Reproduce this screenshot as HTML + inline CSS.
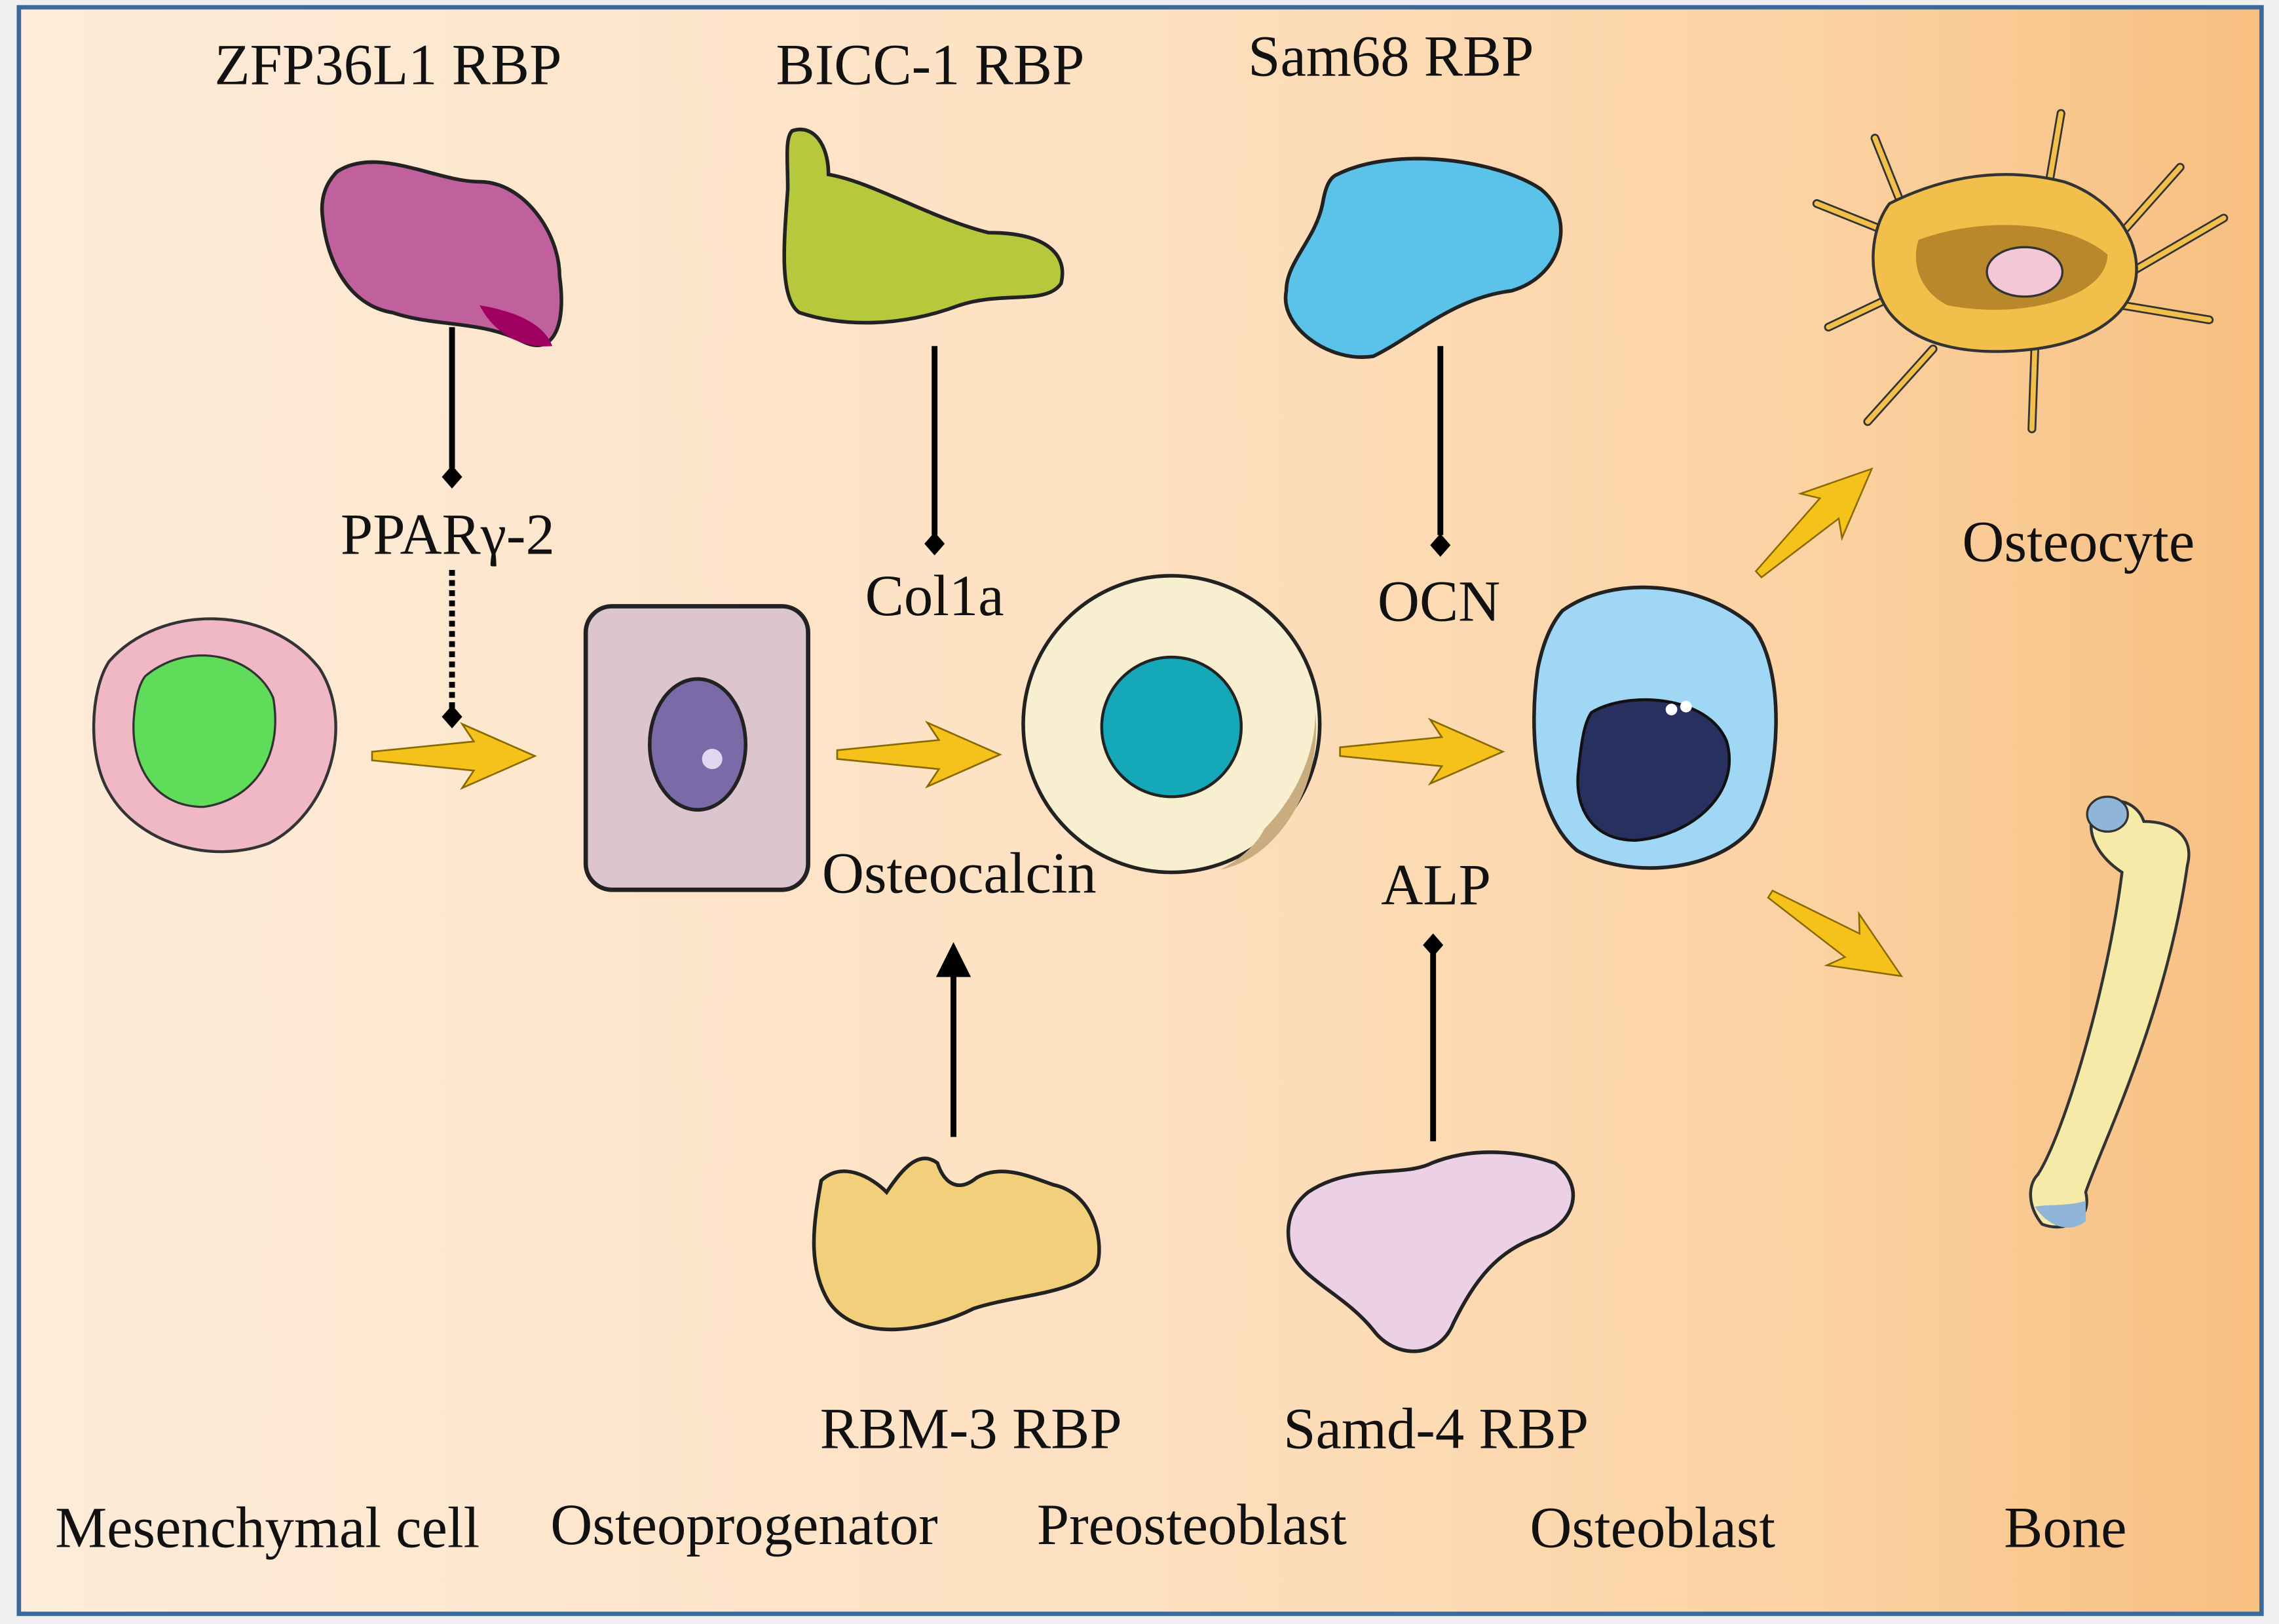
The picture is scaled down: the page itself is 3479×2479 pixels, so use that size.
<!DOCTYPE html>
<html><head><meta charset="utf-8"><style>
html,body{margin:0;padding:0;background:#f0f0f0;}
svg{display:block;}
text{font-family:"Liberation Serif",serif;font-size:40px;fill:#111;}
</style></head><body>
<svg width="3479" height="2479" viewBox="0 0 1568 1117" preserveAspectRatio="none" xmlns="http://www.w3.org/2000/svg">
<defs>
<linearGradient id="bg" x1="0" x2="1" y1="0" y2="0">
<stop offset="0" stop-color="#fdecda"/><stop offset="0.5" stop-color="#fde0c0"/><stop offset="0.8" stop-color="#fbd2a2"/><stop offset="1" stop-color="#f7bf80"/>
</linearGradient>
<polygon id="ya" points="0,-3 70,-10 62,-22 112,0 62,22 70,10 0,3" fill="#f5c21b" stroke="#8a6a00" stroke-width="1.2"/>
</defs>
<rect x="0" y="0" width="1568" height="1117" fill="#f0f0f0"/>
<rect x="13" y="5" width="1543" height="1105" fill="url(#bg)" stroke="#3a6a9c" stroke-width="3"/>

<text x="267" y="58" text-anchor="middle">ZFP36L1 RBP</text>
<text x="640" y="58" text-anchor="middle">BICC-1 RBP</text>
<text x="957" y="52" text-anchor="middle">Sam68 RBP</text>
<text x="308" y="381" text-anchor="middle">PPARγ-2</text>
<text x="643" y="423" text-anchor="middle">Col1a</text>
<text x="990" y="427" text-anchor="middle">OCN</text>
<text x="1430" y="386" text-anchor="middle">Osteocyte</text>
<text x="660" y="614" text-anchor="middle">Osteocalcin</text>
<text x="988" y="622" text-anchor="middle">ALP</text>
<text x="668" y="996" text-anchor="middle">RBM-3 RBP</text>
<text x="988" y="996" text-anchor="middle">Samd-4 RBP</text>
<text x="184" y="1064" text-anchor="middle">Mesenchymal cell</text>
<text x="512" y="1062" text-anchor="middle">Osteoprogenator</text>
<text x="820" y="1062" text-anchor="middle">Preosteoblast</text>
<text x="1137" y="1064" text-anchor="middle">Osteoblast</text>
<text x="1421" y="1064" text-anchor="middle">Bone</text>

<g stroke="#000" stroke-width="4">
<line x1="311" y1="225" x2="311" y2="322"/>
<line x1="311" y1="392" x2="311" y2="488" stroke-dasharray="4,3"/>
<line x1="643" y1="238" x2="643" y2="368"/>
<line x1="991" y1="238" x2="991" y2="368"/>
<line x1="656" y1="782" x2="656" y2="668"/>
<line x1="986" y1="785" x2="986" y2="656"/>
</g>
<g fill="#000">
<polygon points="311,320 318,328 311,336 304,328"/>
<polygon points="311,485 318,493 311,501 304,493"/>
<polygon points="643,366 650,374 643,382 636,374"/>
<polygon points="991,367 998,375 991,383 984,375"/>
<polygon points="986,642 993,650 986,658 979,650"/>
<polygon points="656,648 668,672 644,672"/>
</g>

<use href="#ya" transform="translate(256,520)"/>
<use href="#ya" transform="translate(576,519)"/>
<use href="#ya" transform="translate(922,517)"/>
<use href="#ya" transform="translate(1210,395) rotate(-43) scale(0.95)"/>
<use href="#ya" transform="translate(1218,615) rotate(32) scale(0.95)"/>

<path d="M232,118 C260,100 300,125 330,125 C360,125 385,160 385,190 C390,225 380,245 360,235 C330,220 300,225 270,215 C240,210 225,180 222,150 C220,135 225,125 232,118 Z" fill="#c0619e" stroke="#222" stroke-width="2.5"/>
<path d="M330,210 C360,215 375,225 380,238 C360,240 340,230 330,210 Z" fill="#a0005f"/>
<path d="M545,90 C560,85 570,100 570,120 C600,125 640,150 680,160 C720,160 735,175 730,195 C720,210 690,200 660,210 C620,225 580,225 550,215 C535,205 540,160 542,130 C542,110 540,95 545,90 Z" fill="#b6c93c" stroke="#222" stroke-width="2.5"/>
<path d="M920,120 C960,100 1030,110 1060,130 C1085,150 1075,190 1040,200 C1000,205 975,230 945,245 C915,250 880,225 885,200 C885,180 905,165 910,140 C912,128 915,122 920,120 Z" fill="#5bc3ea" stroke="#222" stroke-width="2.5"/>
<path d="M75,455 C110,415 185,415 220,460 C245,500 225,560 185,580 C145,595 95,580 75,545 C60,520 62,475 75,455 Z" fill="#f0b8c6" stroke="#333" stroke-width="2"/>
<path d="M100,465 C130,440 175,450 188,480 C195,520 175,550 140,555 C105,555 90,525 92,495 C93,480 96,470 100,465 Z" fill="#5fdc5a" stroke="#333" stroke-width="1.5"/>
<rect x="403" y="417" width="153" height="195" rx="18" fill="#dcc5cf" stroke="#222" stroke-width="3"/>
<ellipse cx="480" cy="512" rx="33" ry="45" fill="#7a6aa8" stroke="#222" stroke-width="2.5"/>
<circle cx="490" cy="522" r="7" fill="#e0d8f0"/>
<circle cx="806" cy="498" r="102" fill="#f7efd0" stroke="#222" stroke-width="2.5"/>
<path d="M870,570 C890,550 905,520 905,490 C910,540 880,590 840,598 C855,590 865,580 870,570 Z" fill="#c9ad7f"/>
<circle cx="806" cy="500" r="48" fill="#14a8b8" stroke="#222" stroke-width="2"/>
<path d="M1075,420 C1110,395 1170,400 1205,430 C1230,460 1225,540 1205,570 C1180,600 1120,605 1085,585 C1055,560 1052,500 1058,460 C1062,440 1068,428 1075,420 Z" fill="#9fd7f5" stroke="#222" stroke-width="2.5"/>
<path d="M1095,490 C1120,475 1175,478 1188,510 C1198,545 1165,575 1125,578 C1095,578 1083,555 1086,530 C1088,510 1090,497 1095,490 Z" fill="#283060" stroke="#111" stroke-width="2"/>
<circle cx="1150" cy="488" r="4" fill="#fff"/><circle cx="1160" cy="486" r="4" fill="#fff"/>
<g stroke="#333" stroke-width="6" fill="none" stroke-linecap="round">
<path d="M1310,145 L1290,95"/><path d="M1410,125 L1418,78"/><path d="M1460,160 L1500,115"/><path d="M1470,185 L1530,150"/><path d="M1460,210 L1520,220"/><path d="M1400,240 L1398,295"/><path d="M1330,240 L1285,290"/><path d="M1300,205 L1258,225"/><path d="M1300,160 L1250,140"/>
</g>
<g stroke="#f2c04a" stroke-width="3.5" fill="none" stroke-linecap="round">
<path d="M1310,145 L1290,95"/><path d="M1410,125 L1418,78"/><path d="M1460,160 L1500,115"/><path d="M1470,185 L1530,150"/><path d="M1460,210 L1520,220"/><path d="M1400,240 L1398,295"/><path d="M1330,240 L1285,290"/><path d="M1300,205 L1258,225"/><path d="M1300,160 L1250,140"/>
</g>
<path d="M1300,140 C1340,120 1380,115 1420,125 C1450,135 1470,160 1470,185 C1470,215 1440,235 1400,240 C1360,245 1320,240 1300,215 C1285,195 1285,160 1300,140 Z" fill="#f2c04a" stroke="#333" stroke-width="2"/>
<path d="M1320,165 C1360,150 1420,150 1450,175 C1450,205 1390,220 1340,210 C1320,200 1315,180 1320,165 Z" fill="#b8882a"/>
<ellipse cx="1393" cy="187" rx="26" ry="17" fill="#f3c8d6" stroke="#333" stroke-width="1.5"/>
<path d="M1440,560 C1450,545 1470,550 1475,565 C1495,565 1510,575 1505,595 C1490,700 1445,790 1435,820 C1440,840 1420,848 1405,842 C1395,830 1395,815 1402,808 C1420,780 1450,680 1460,600 C1445,590 1435,575 1440,560 Z" fill="#f6eaa8" stroke="#333" stroke-width="2"/>
<ellipse cx="1450" cy="560" rx="14" ry="12" fill="#8fb5d8" stroke="#333" stroke-width="1.5"/>
<path d="M1400,830 C1410,845 1425,848 1435,840 L1435,826 C1420,830 1410,828 1400,830 Z" fill="#8fb5d8"/>
<path d="M565,812 C580,798 600,810 610,820 C620,805 632,790 645,800 C650,815 660,820 672,810 C690,800 710,810 725,815 C750,820 760,850 755,870 C745,890 700,890 670,900 C640,915 590,925 570,895 C555,870 560,840 565,812 Z" fill="#f2cf7a" stroke="#222" stroke-width="2.5"/>
<path d="M900,820 C930,800 965,810 985,800 C1010,790 1040,790 1070,800 C1090,815 1085,840 1060,850 C1030,860 1015,880 1000,910 C990,935 960,935 945,915 C925,890 895,880 888,860 C883,840 890,828 900,820 Z" fill="#ecd1e6" stroke="#222" stroke-width="2.5"/>
</svg>
</body></html>
